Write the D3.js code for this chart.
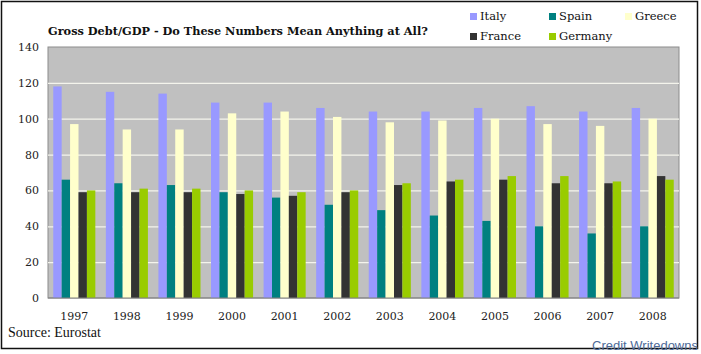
<!DOCTYPE html>
<html>
<head>
<meta charset="utf-8">
<script src="https://cdn.jsdelivr.net/npm/d3@7"></script>
<style>
  body { margin: 0; background: #fff; }
</style>
</head>
<body>
<div id="container"></div>
<script>
/* DATA */
const years = ["1997","1998","1999","2000","2001","2002","2003","2004","2005","2006","2007","2008"];
const countries = ["Italy","Spain","Greece","France","Germany"];
const italy   = [118,115,114,109,109,106,104,104,106,107,104,106];
const spain   = [66,64,63,59,56,52,49,46,43,40,36,40];
const greece  = [97,94,94,103,104,101,98,99,100,97,96,100];
const france  = [59,59,59,58,57,59,63,65,66,64,64,68];
const germany = [60,61,61,60,59,60,64,66,68,68,65,66];
const yTicks = [0,20,40,60,80,100,120,140];

/* CONSTANTS */
const width = 701, height = 354;
const plot = { left: 48, right: 679, top: 47, bottom: 298 };
const serif = "'DejaVu Serif', serif";
const colors = {
  Italy: "#9999ff", Spain: "#008080", Greece: "#ffffcc",
  France: "#333333", Germany: "#99cc00"
};

const series = { Italy: italy, Spain: spain, Greece: greece, France: france, Germany: germany };
const rows = years.map((yr, i) => ({ year: yr, values: countries.map(c => ({ key: c, value: series[c][i] })) }));

const svg = d3.select("#container")
  .append("svg")
  .attr("width", width)
  .attr("height", height);

svg.append("rect")
  .attr("width", width).attr("height", height)
  .attr("fill", "#fff");

// scales
const x0 = d3.scaleBand()
  .domain(years)
  .range([plot.left, plot.right])
  .paddingInner(0.2)
  .paddingOuter(0.1);

const x1 = d3.scaleBand()
  .domain(countries)
  .range([0, x0.bandwidth()]);

const y = d3.scaleLinear()
  .domain([0, 140])
  .range([plot.bottom, plot.top]);

// plot background
svg.append("rect")
  .attr("x", plot.left).attr("y", plot.top)
  .attr("width", plot.right - plot.left)
  .attr("height", plot.bottom - plot.top)
  .attr("fill", "#c0c0c0")
  .attr("stroke", "#8c8c8c");

// gridlines
svg.append("g")
  .selectAll("line")
  .data(yTicks.filter(d => d > 0 && d < 140))
  .join("line")
  .attr("x1", plot.left).attr("x2", plot.right)
  .attr("y1", d => y(d) + 0.5).attr("y2", d => y(d) + 0.5)
  .attr("stroke", "#f4f4ec")
  .attr("stroke-width", 1.2);

// bars
svg.append("g")
  .selectAll("g")
  .data(rows)
  .join("g")
  .attr("transform", d => `translate(${x0(d.year)},0)`)
  .selectAll("rect")
  .data(d => d.values)
  .join("rect")
  .attr("x", d => x1(d.key))
  .attr("width", x1.bandwidth())
  .attr("y", d => y(d.value))
  .attr("height", d => y(0) - y(d.value))
  .attr("fill", d => colors[d.key]);

// baseline
svg.append("line")
  .attr("x1", plot.left).attr("x2", plot.right)
  .attr("y1", plot.bottom).attr("y2", plot.bottom)
  .attr("stroke", "#808080");

// y axis labels
const yAxis = d3.axisLeft(y).tickValues(yTicks).tickSize(0).tickPadding(9);
svg.append("g")
  .attr("transform", `translate(${plot.left},0)`)
  .call(yAxis)
  .call(g => g.select(".domain").remove())
  .selectAll("text")
  .style("font-family", serif)
  .style("font-size", "11px")
  .attr("fill", "#222");

// x axis labels
const xAxis = d3.axisBottom(x0).tickSize(0).tickPadding(14);
svg.append("g")
  .attr("transform", `translate(0,${plot.bottom})`)
  .call(xAxis)
  .call(g => g.select(".domain").remove())
  .selectAll("text")
  .style("font-family", serif)
  .style("font-size", "11px")
  .attr("fill", "#222");

// title
svg.append("text")
  .attr("x", 48).attr("y", 35)
  .style("font-family", serif)
  .style("font-size", "11.3px")
  .style("font-weight", "bold")
  .attr("fill", "#111")
  .text("Gross Debt/GDP - Do These Numbers Mean Anything at All?");

// legend
const legendPos = [[470, 20], [549, 20], [625, 20], [470, 40], [549, 40]];
const legend = svg.append("g")
  .selectAll("g")
  .data(countries)
  .join("g")
  .attr("transform", (d, i) => `translate(${legendPos[i][0]},${legendPos[i][1]})`);
legend.append("rect")
  .attr("x", 0).attr("y", -7)
  .attr("width", 7).attr("height", 7)
  .attr("fill", d => colors[d]);
legend.append("text")
  .attr("x", 10).attr("y", 0)
  .style("font-family", serif)
  .style("font-size", "11.5px")
  .attr("fill", "#111")
  .text(d => d);

// source
svg.append("text")
  .attr("x", 8).attr("y", 337)
  .style("font-family", "'Liberation Serif', serif")
  .style("font-size", "14px")
  .attr("fill", "#111")
  .text("Source: Eurostat");

// outer frame
svg.append("rect")
  .attr("x", 1.5).attr("y", 1.5)
  .attr("width", 696).attr("height", 347)
  .attr("fill", "none")
  .attr("stroke", "#111")
  .attr("stroke-width", 1.5);

// credit
svg.append("text")
  .attr("x", 698).attr("y", 350)
  .attr("text-anchor", "end")
  .style("font-family", "'Liberation Sans', Arial, sans-serif")
  .style("font-size", "13px")
  .attr("fill", "#4d6a98")
  .text("Credit Writedowns");
</script>
</body>
</html>
